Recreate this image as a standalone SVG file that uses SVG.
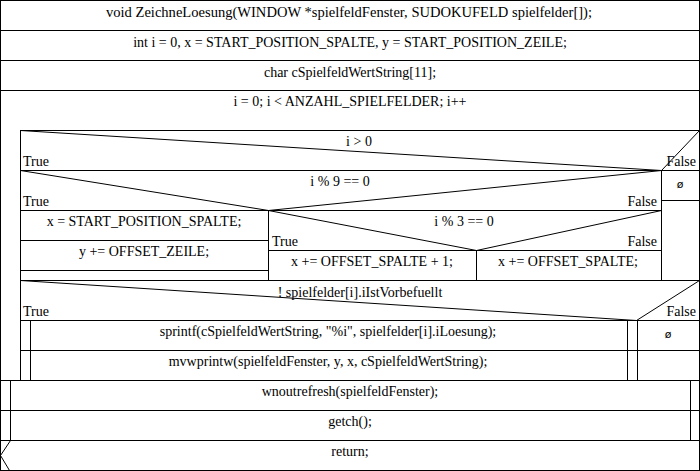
<svg xmlns="http://www.w3.org/2000/svg" width="700" height="471" viewBox="0 0 700 471">
<style>
.ln{stroke:#000;stroke-width:1;fill:none;shape-rendering:crispEdges}
.dg{stroke:#000;stroke-width:1;fill:none}
text{font-family:"Liberation Serif","Times New Roman",serif;font-size:14px;fill:#000}
.c{text-anchor:middle}
.r{text-anchor:end}
.e{font-family:"DejaVu Sans","Liberation Sans",sans-serif;font-size:11px}
</style>
<rect x="0" y="0" width="700" height="471" fill="#fff"/>
<g id="frame"><rect class="ln" x="0.5" y="0.5" width="699" height="470"/></g>
<g id="decl">
<path class="ln" d="M0 30.5H700"/>
<text class="c" x="349" y="17" textLength="486" lengthAdjust="spacingAndGlyphs">void ZeichneLoesung(WINDOW *spielfeldFenster, SUDOKUFELD spielfelder[]);</text>
</g>
<g id="init">
<path class="ln" d="M0 60.5H700"/>
<text class="c" x="350" y="47">int i = 0, x = START_POSITION_SPALTE, y = START_POSITION_ZEILE;</text>
</g>
<g id="chararr">
<path class="ln" d="M0 90.5H700"/>
<text class="c" x="350" y="77">char cSpielfeldWertString[11];</text>
</g>
<g id="loop">
<text class="c" x="350" y="106">i = 0; i &lt; ANZAHL_SPIELFELDER; i++</text>
<path class="ln" d="M20 130.5H700M20.5 130V380"/>
</g>
<g id="if_gt0">
<path class="dg" d="M20.5 130.5L661.5 170.5L699.5 130.5"/>
<text class="c" x="359" y="146">i &gt; 0</text>
<text x="23" y="166">True</text>
<text class="r" x="696" y="166">False</text>
<path class="ln" d="M20 170.5H700M661.5 170V280M661 200.5H700"/>
<text class="c e" x="680" y="188">ø</text>
</g>
<g id="if_mod9">
<path class="dg" d="M20.5 170.5L268.5 210.5L661.5 170.5"/>
<text class="c" x="340" y="186">i % 9 == 0</text>
<text x="23" y="206">True</text>
<text class="r" x="657" y="206">False</text>
<path class="ln" d="M20 210.5H662M268.5 210V280"/>
</g>
<g id="setx">
<text class="c" x="144" y="226">x = START_POSITION_SPALTE;</text>
<path class="ln" d="M20 240.5H269"/>
</g>
<g id="incy">
<text class="c" x="144" y="256">y += OFFSET_ZEILE;</text>
<path class="ln" d="M20 270.5H269"/>
</g>
<g id="if_mod3">
<path class="dg" d="M268.5 210.5L476.5 250.5L661.5 210.5"/>
<text class="c" x="464" y="226">i % 3 == 0</text>
<text x="272" y="246">True</text>
<text class="r" x="657" y="246">False</text>
<path class="ln" d="M268 250.5H662M476.5 250V280"/>
</g>
<g id="incx1"><text class="c" x="372" y="266">x += OFFSET_SPALTE + 1;</text></g>
<g id="incx"><text class="c" x="568" y="266">x += OFFSET_SPALTE;</text></g>
<g id="if_vorbef">
<path class="ln" d="M20 280.5H700"/>
<path class="dg" d="M20.5 280.5L636.5 320.5L699.5 280.5"/>
<text class="c" x="360" y="297">! spielfelder[i].iIstVorbefuellt</text>
<text x="23" y="316">True</text>
<text class="r" x="696" y="316">False</text>
<path class="ln" d="M20 320.5H700M30.5 320V380M627.5 320V380M637.5 320V380M20 350.5H700"/>
<text class="c e" x="668" y="338">ø</text>
</g>
<g id="sprintf"><text class="c" x="328" y="336">sprintf(cSpielfeldWertString, "%i", spielfelder[i].iLoesung);</text></g>
<g id="mvwprintw"><text class="c" x="328" y="366">mvwprintw(spielfeldFenster, y, x, cSpielfeldWertString);</text></g>
<g id="wnoutrefresh">
<path class="ln" d="M0 380.5H700M10.5 380V440M690.5 380V440M0 410.5H700"/>
<text class="c" x="350" y="396">wnoutrefresh(spielfeldFenster);</text>
</g>
<g id="getch">
<path class="ln" d="M0 440.5H700"/>
<text class="c" x="350" y="426">getch();</text>
</g>
<g id="return">
<path class="dg" d="M10.5 440.5L0.5 455.5L9.5 470.5"/>
<text class="c" x="350" y="456">return;</text>
</g>
<g id="connectors"></g>
</svg>
